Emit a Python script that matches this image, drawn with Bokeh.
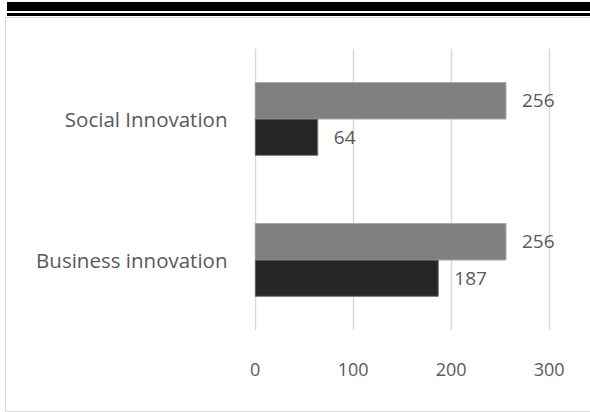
from bokeh.plotting import figure
from bokeh.models import ColumnDataSource, FactorRange, Range1d, FixedTicker, Div, LabelSet
from bokeh.layouts import column
from bokeh.transform import dodge
from bokeh.core.properties import value
from bokeh.embed import file_html
from bokeh.resources import INLINE

categories = ["Business innovation", "Social Innovation"]
series_1 = [256, 256]   # grey bars (upper in each group)
series_2 = [187, 64]    # dark bars (lower in each group)
x_ticks = [0, 100, 200, 300]

FONT = "Open Sans"
TXT = "#595959"

src = ColumnDataSource(dict(
    cat=categories,
    s1=series_1,
    s2=series_2,
    l1=[str(v) for v in series_1],
    l2=[str(v) for v in series_2],
))

p = figure(
    width=585, height=395,
    y_range=FactorRange(factors=categories, range_padding=0),
    x_range=Range1d(-0.6, 343.3),
    output_backend="svg", toolbar_location=None,
    min_border_left=248, min_border_right=0,
    min_border_top=30, min_border_bottom=83,
)
p.margin = (0, 0, 0, 5)
p.styles = {"border-top": "1px solid #d9d9d9", "border-left": "1px solid #d9d9d9",
            "border-bottom": "1px solid #d9d9d9", "box-sizing": "border-box"}

bw = 0.258
p.hbar(y=dodge("cat", bw / 2, range=p.y_range), right="s1", left=0, height=bw,
       source=src, fill_color="#7f7f7f", line_color="#a6a6a6", line_width=1)
p.hbar(y=dodge("cat", -bw / 2, range=p.y_range), right="s2", left=0, height=bw,
       source=src, fill_color="#262626", line_color="#7f7f7f", line_width=1)

lab1 = LabelSet(x="s1", y=dodge("cat", bw / 2, range=p.y_range), text="l1", source=src,
                x_offset=16, text_baseline="middle", text_align="left",
                text_font=value(FONT), text_font_size=value("19px"), text_color=value(TXT))
lab2 = LabelSet(x="s2", y=dodge("cat", -bw / 2, range=p.y_range), text="l2", source=src,
                x_offset=16, text_baseline="middle", text_align="left",
                text_font=value(FONT), text_font_size=value("19px"), text_color=value(TXT))
p.add_layout(lab1)
p.add_layout(lab2)

p.xaxis.ticker = FixedTicker(ticks=x_ticks)
for ax in (p.xaxis, p.yaxis):
    ax.axis_line_color = None
    ax.major_tick_line_color = None
    ax.minor_tick_line_color = None
    ax.major_label_text_font = FONT
    ax.major_label_text_color = TXT
p.xaxis.major_label_text_font_size = "18px"
p.yaxis.major_label_text_font_size = "20.5px"
p.yaxis.major_label_standoff = 21
p.xaxis.major_label_standoff = 26

p.xgrid.grid_line_color = "#d9d9d9"
p.xgrid.grid_line_width = 1.5
p.ygrid.grid_line_color = None
p.outline_line_color = None
p.background_fill_color = "white"
p.border_fill_color = "white"

top = Div(
    text='<div style="width:590px;height:9px;background:#000;margin-top:2px;margin-left:7px"></div>'
         '<div style="width:590px;height:3px;background:#000;margin-top:2px;margin-left:7px"></div>',
    width=590, height=17, margin=(0, 0, 0, 0),
)

layout = column(top, p, spacing=0)
layout.margin = (0, 0, 0, 0)

open("out.html", "w").write(file_html(layout, INLINE))
